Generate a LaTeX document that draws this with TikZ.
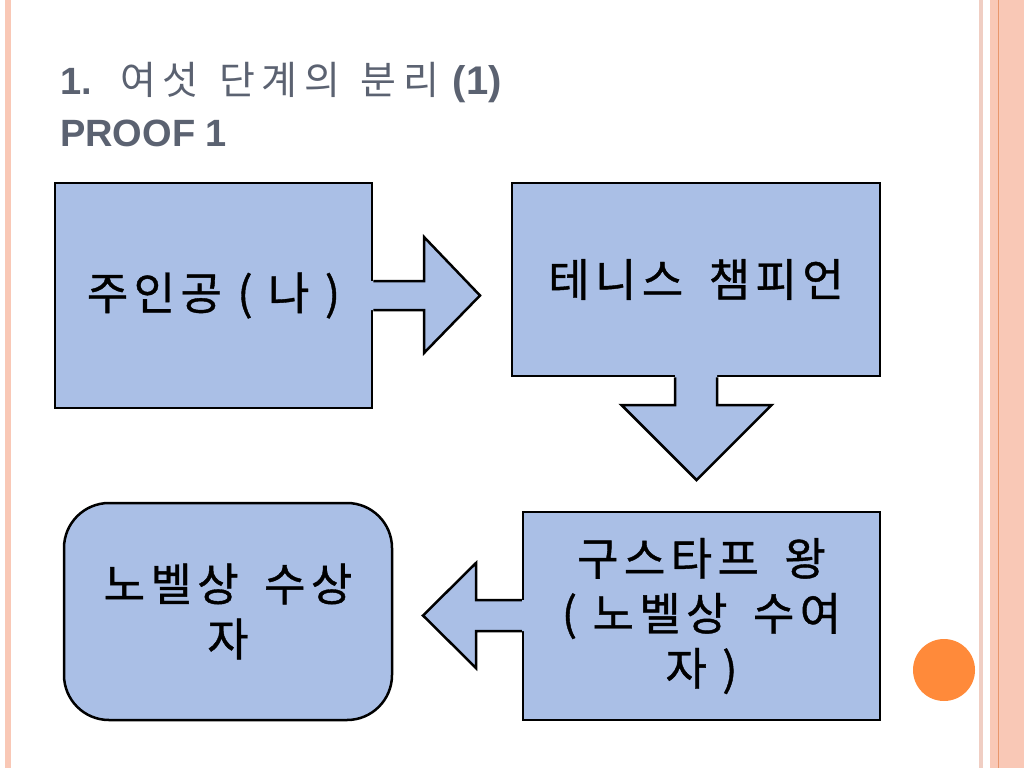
\documentclass[tikz,border=0pt]{standalone}
\usepackage{fontspec}
\setmainfont{Liberation Sans}
\newfontfamily\krtitle[LetterSpace=16]{Noto Sans CJK KR}
\newfontfamily\krbox[LetterSpace=12,FakeBold=0.9]{Noto Sans CJK KR}
\definecolor{boxfill}{HTML}{AABFE6}
\definecolor{titlegray}{HTML}{5B6271}
\definecolor{peach}{HTML}{F9C8B6}
\definecolor{peachlight}{HTML}{F0CEC3}
\definecolor{peachline}{HTML}{E8966C}
\definecolor{dot}{HTML}{FF8A3A}
\tikzset{
  flowbox/.style={draw=black, line width=2.5pt, fill=boxfill, inner sep=0pt,
    font=\krbox\fontsize{45}{55}\selectfont, align=center},
  blockarrow/.style={draw=black, line width=2.5pt, line join=miter},
  arrowfill/.style={fill=boxfill},
  titletext/.style={anchor=base west, inner sep=0pt, text=titlegray,
    font=\fontsize{38}{46}\selectfont}
}
\begin{document}
\begin{tikzpicture}[x=1pt,y=-1pt]
\useasboundingbox (0,0) rectangle (1024,768);
\fill[white] (0,0) rectangle (1024,768);
% decorative stripes
\fill[peach] (5,0) rectangle (11,768);
\fill[peachlight] (979,0) rectangle (983,768);
\fill[peach] (990,0) rectangle (1024,768);
\draw[peachline, line width=1pt] (998,0) -- (998,768);
\fill[dot] (944,670) circle (31);

% title
\node[titletext] (t1) at (60,94) {\bfseries 1.\hspace{29pt}{\krtitle\mdseries\fontsize{39}{46}\selectfont 여섯\hspace{6pt} 단계의\hspace{6pt} 분리}\hspace{14pt}{\fontsize{40}{46}\selectfont(1)}};
\node[titletext] (t2) at (60,146) {\bfseries PROOF 1};

% boxes
\node[flowbox, minimum width=317pt, minimum height=225pt] (b1) at (213.5,295.5) {\raisebox{-1.5pt}{주인공 ( 나 )}};
\node[flowbox, minimum width=368pt, minimum height=193pt] (b2) at (696,279.5) {테니스\hspace{10pt} 챔피언};
\node[flowbox, minimum width=357pt, minimum height=208pt] (b3) at (701.5,616) {\raisebox{-2pt}{구스타프\hspace{10pt} 왕}\\\raisebox{-2pt}{( 노벨상\hspace{10pt} 수여}\\\raisebox{-2pt}{자 )}};
\node[flowbox, rounded corners=45pt, minimum width=328pt, minimum height=217pt] (b4) at (228,611.5) {노벨상\hspace{10pt} 수상\\자};

% right arrow b1 -> b2
\coordinate (ra) at (b1.east |- 0,281);
\fill[arrowfill] ([xshift=-3pt]ra) -- (424,281) -- (424,237) -- (480,295.5) -- (424,353) -- (424,310) -- ([xshift=-3pt]ra |- 0,310) -- cycle;
\draw[blockarrow] (ra) -- (424,281) -- (424,237) -- (480,295.5) -- (424,353) -- (424,310) -- (ra |- 0,310);

% down arrow b2 -> b3
\coordinate (da) at (b2.south -| 675,0);
\fill[arrowfill] ([yshift=3pt]da) -- (675,405) -- (621.5,405) -- (696.5,480) -- (771.5,405) -- (717,405) -- ([yshift=3pt]da -| 717,0) -- cycle;
\draw[blockarrow] (da) -- (675,405) -- (621.5,405) -- (696.5,480) -- (771.5,405) -- (717,405) -- (da -| 717,0);

% left arrow b3 -> b4
\coordinate (la) at (b3.west |- 0,600);
\fill[arrowfill] ([xshift=3pt]la) -- (476,600) -- (476,563) -- (423,615.5) -- (476,668) -- (476,631) -- ([xshift=3pt]la |- 0,631) -- cycle;
\draw[blockarrow] (la) -- (476,600) -- (476,563) -- (423,615.5) -- (476,668) -- (476,631) -- (la |- 0,631);
\end{tikzpicture}
\end{document}
